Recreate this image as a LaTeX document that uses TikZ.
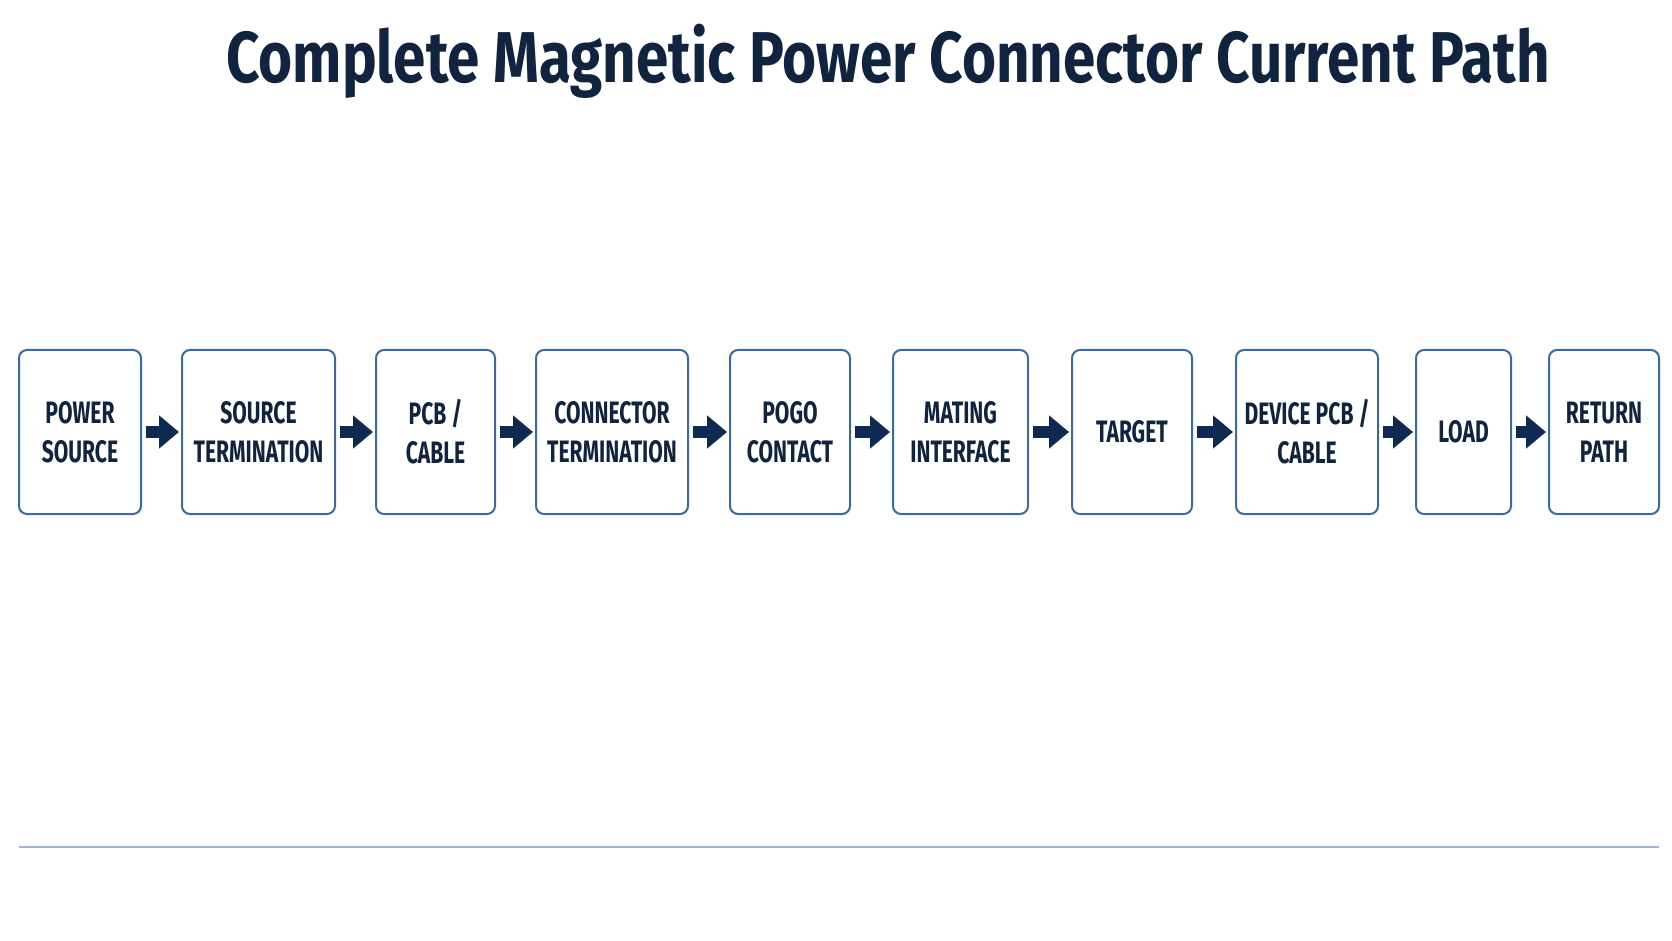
\documentclass[tikz,border=0pt]{standalone}
\usepackage{fontspec}
\setmainfont{Fira Sans}
\newfontfamily\titlefont[FakeStretch=0.81]{Fira Sans}
\newfontfamily\stagefont[FakeStretch=0.68]{Fira Sans}
\usetikzlibrary{arrows.meta, positioning}

\definecolor{inkblue}{HTML}{10233F}
\definecolor{edgeblue}{HTML}{3A6A9E}
\definecolor{flowblue}{HTML}{0E2A52}
\definecolor{ruleblue}{HTML}{A3B8CF}

\tikzset{
  stage/.style={draw=edgeblue, line width=1pt, rounded corners=4pt, fill=white,
    minimum height=82pt, inner sep=0pt, align=center, text=inkblue,
    font=\stagefont\bfseries\fontsize{15.5}{19.5}\selectfont},
  flow/.style={draw=flowblue, line width=6pt, -{Triangle[length=10pt, width=16pt]},
    shorten <=2pt, shorten >=1pt}
}

\begin{document}
\begin{tikzpicture}[x=0.5pt, y=-0.5pt]

\useasboundingbox (0,0) rectangle (1672,941);

% title
\node (title)[anchor=base, text=inkblue, font=\titlefont\bfseries\fontsize{36}{40}\selectfont]
  at (888, 83) {Complete Magnetic Power Connector Current Path};

% stages of the current path
\node (src)[stage, minimum width=61pt] at (80, 432) {POWER\\SOURCE};
\node (srcterm)[stage, minimum width=76.5pt] at (258.5, 432) {SOURCE\\TERMINATION};
\node (pcb)[stage, minimum width=59.5pt] at (435.5, 432) {PCB /\\CABLE};
\node (conterm)[stage, minimum width=76pt] at (612, 432) {CONNECTOR\\TERMINATION};
\node (pogo)[stage, minimum width=60pt] at (790, 432) {POGO\\CONTACT};
\node (mating)[stage, minimum width=67.5pt] at (960.5, 432) {MATING\\INTERFACE};
\node (target)[stage, minimum width=60pt] at (1132, 432) {TARGET};
\node (devpcb)[stage, minimum width=71pt] at (1307, 432) {DEVICE PCB /\\CABLE};
\node (load)[stage, minimum width=47.5pt] at (1463.5, 432) {LOAD};
\node (ret)[stage, minimum width=55pt] at (1604, 432) {RETURN\\PATH};

% arrows between stages
\draw[flow] (src) -- (srcterm);
\draw[flow] (srcterm) -- (pcb);
\draw[flow] (pcb) -- (conterm);
\draw[flow] (conterm) -- (pogo);
\draw[flow] (pogo) -- (mating);
\draw[flow] (mating) -- (target);
\draw[flow] (target) -- (devpcb);
\draw[flow] (devpcb) -- (load);
\draw[flow] (load) -- (ret);

% footer rule
\coordinate (ruleL) at (19, 847);
\coordinate (ruleR) at (1659, 847);
\draw[ruleblue, line width=1pt] (ruleL) -- (ruleR);

\end{tikzpicture}
\end{document}
